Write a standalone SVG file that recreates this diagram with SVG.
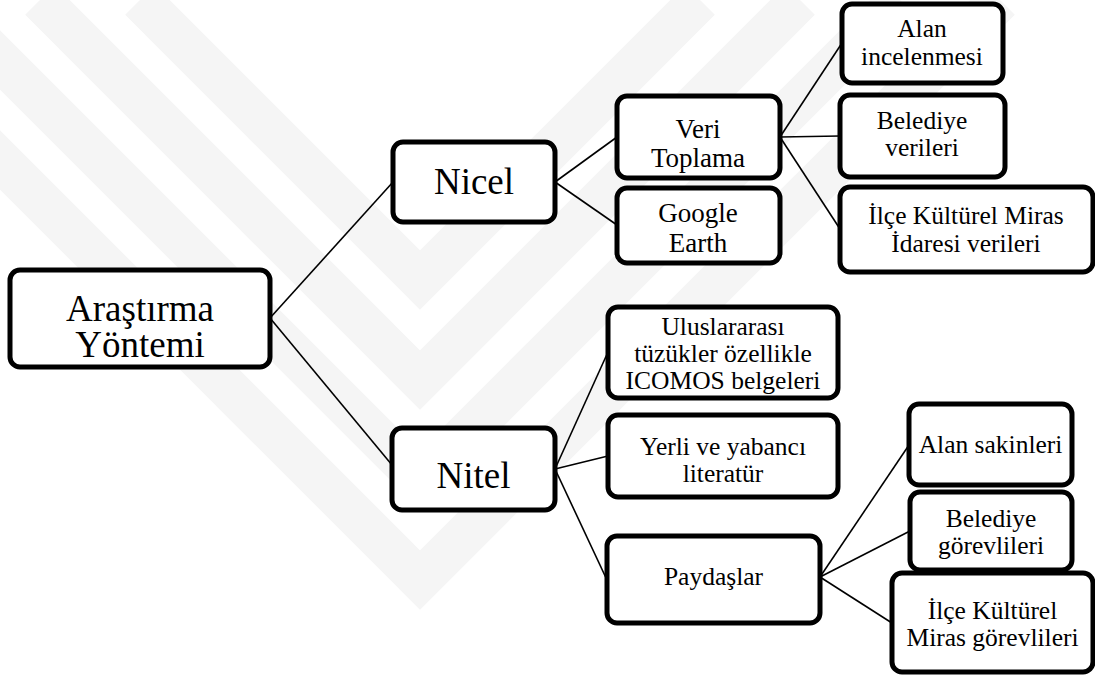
<svg xmlns="http://www.w3.org/2000/svg" width="1095" height="677" viewBox="0 0 1095 677">
<style>
.box{fill:#fff;stroke:#000;stroke-width:5}
.t{font-family:'Liberation Serif','Tinos','Times New Roman','DejaVu Serif',serif;fill:#000;text-anchor:middle}
.l0{font-size:37px}
.l2{font-size:27px}
.l3{font-size:25.5px}
.c line{stroke:#000;stroke-width:1.6}
.wm polyline{fill:none;stroke:#f5f5f5;stroke-width:42;stroke-linejoin:miter}
</style>
<rect width="1095" height="677" fill="#fff"/>
<g id="watermark" class="wm">
<polyline points="140,0 420,280 700,0"/>
<polyline points="40,0 420,380 800,0"/>
<polyline points="-60,0 420,480 900,0"/>
<polyline points="-160,0 420,580 1000,0"/>
</g>
<g id="connectors" class="c">
<line x1="270" y1="318" x2="393" y2="182"/>
<line x1="270" y1="318" x2="392" y2="465"/>
<line x1="555" y1="182" x2="617" y2="137"/>
<line x1="555" y1="182" x2="617" y2="225"/>
<line x1="780" y1="137" x2="842" y2="43"/>
<line x1="780" y1="137" x2="840" y2="136"/>
<line x1="780" y1="137" x2="840" y2="229"/>
<line x1="555" y1="469" x2="608" y2="352"/>
<line x1="555" y1="469" x2="608" y2="456"/>
<line x1="555" y1="469" x2="607" y2="580"/>
<line x1="820" y1="577" x2="909" y2="445"/>
<line x1="820" y1="577" x2="910" y2="531"/>
<line x1="820" y1="577" x2="892" y2="623"/>
</g>
<g id="root"><rect class="box" x="10" y="270" width="260" height="97" rx="10"/>
<text class="t l0" x="140" y="321">Araştırma</text><text class="t l0" x="140" y="357">Yöntemi</text></g>
<g id="nicel"><rect class="box" x="393" y="142" width="162" height="80" rx="10"/>
<text class="t l0" x="474" y="194">Nicel</text></g>
<g id="nitel"><rect class="box" x="392" y="428" width="163" height="82" rx="10"/>
<text class="t l0" x="473.5" y="488">Nitel</text></g>
<g id="veri"><rect class="box" x="617" y="96" width="163" height="82" rx="10"/>
<text class="t l2" x="698" y="138">Veri</text><text class="t l2" x="698" y="167">Toplama</text></g>
<g id="google"><rect class="box" x="617" y="188" width="163" height="75" rx="10"/>
<text class="t l2" x="698" y="222">Google</text><text class="t l2" x="698" y="252">Earth</text></g>
<g id="alan-inc"><rect class="box" x="842" y="4" width="161" height="79" rx="10"/>
<text class="t l3" x="922" y="37">Alan</text><text class="t l3" x="922" y="65">incelenmesi</text></g>
<g id="bel-veri"><rect class="box" x="840" y="95" width="165" height="82" rx="10"/>
<text class="t l3" x="922" y="129">Belediye</text><text class="t l3" x="922" y="156">verileri</text></g>
<g id="ilce-veri"><rect class="box" x="840" y="187" width="253" height="85" rx="10"/>
<text class="t l3" x="966" y="224">İlçe Kültürel Miras</text><text class="t l3" x="966" y="252">İdaresi verileri</text></g>
<g id="ulus"><rect class="box" x="608" y="307" width="230" height="91" rx="10"/>
<text class="t l3" x="723" y="335">Uluslararası</text><text class="t l3" x="723" y="362">tüzükler özellikle</text><text class="t l3" x="723" y="389">ICOMOS belgeleri</text></g>
<g id="yerli"><rect class="box" x="608" y="415" width="230" height="82" rx="10"/>
<text class="t l3" x="723" y="455">Yerli ve yabancı</text><text class="t l3" x="723" y="482">literatür</text></g>
<g id="paydas"><rect class="box" x="607" y="536" width="213" height="87" rx="10"/>
<text class="t l3" x="713.5" y="585">Paydaşlar</text></g>
<g id="alan-sak"><rect class="box" x="909" y="404" width="163" height="81" rx="10"/>
<text class="t l3" x="990.5" y="453">Alan sakinleri</text></g>
<g id="bel-gor"><rect class="box" x="910" y="492" width="162" height="78" rx="10"/>
<text class="t l3" x="991" y="527">Belediye</text><text class="t l3" x="991" y="554">görevlileri</text></g>
<g id="ilce-gor"><rect class="box" x="892" y="573" width="201" height="99" rx="10"/>
<text class="t l3" x="992.5" y="619">İlçe Kültürel</text><text class="t l3" x="992.5" y="646">Miras görevlileri</text></g>
</svg>
